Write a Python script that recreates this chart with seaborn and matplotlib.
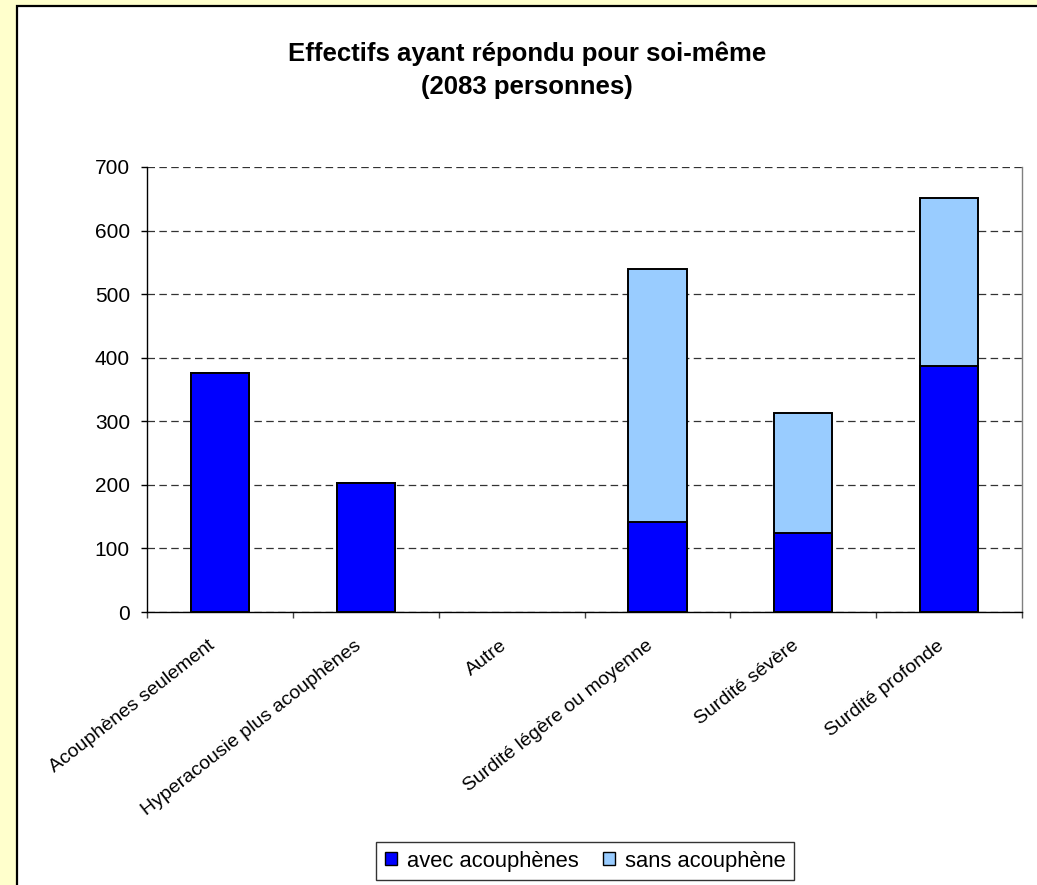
import matplotlib
matplotlib.use("Agg")
import matplotlib.pyplot as plt
import matplotlib.patches as mpatches
import matplotlib.transforms as mtransforms
from matplotlib.ticker import FixedLocator
import seaborn as sns
import pandas as pd

categories = ["Acouphènes seulement", "Hyperacousie plus acouphènes", "Autre",
              "Surdité légère ou moyenne", "Surdité sévère", "Surdité profonde"]
avec_acouphenes = [376, 203, 0, 141, 124, 387]
sans_acouphene = [0, 0, 0, 399, 189, 265]
yticks = [0, 100, 200, 300, 400, 500, 600, 700]
title_line1 = "Effectifs ayant répondu pour soi-même"
title_line2 = "(2083 personnes)"
legend_labels = ["avec acouphènes", "sans acouphène"]

dark = "#0000FF"
light = "#99CCFF"

sns.set_style("white")
plt.rcParams["font.family"] = ["Liberation Sans", "DejaVu Sans"]
plt.rcParams["text.color"] = "black"
plt.rcParams["xtick.color"] = "black"
plt.rcParams["ytick.color"] = "black"
plt.rcParams["axes.labelcolor"] = "black"

df = pd.DataFrame({"cat": categories, "avec": avec_acouphenes, "sans": sans_acouphene})
df["total"] = df["avec"] + df["sans"]

W, H = 1037, 885
fig = plt.figure(figsize=(W / 100, H / 100), dpi=100)
fig.patch.set_facecolor("#FFFFCC")

# white chart panel with black border
panel = mpatches.Rectangle((17 / W, -0.02), 1.05, 1 - 6 / H + 0.02,
                           transform=fig.transFigure, facecolor="white",
                           edgecolor="black", linewidth=1.6, zorder=-5)
fig.patches.append(panel)

ax = fig.add_axes([147 / W, 1 - 612 / H, (1022 - 147) / W, (612 - 167) / H])
ax.set_zorder(2)
ax.set_facecolor("white")
ax.patch.set_alpha(0)

sns.barplot(data=df, x="cat", y="total", order=categories, color=light,
            saturation=1, width=0.4, edgecolor="black", linewidth=1.4, ax=ax, zorder=3)
sns.barplot(data=df, x="cat", y="avec", order=categories, color=dark,
            saturation=1, width=0.4, edgecolor="black", linewidth=1.4, ax=ax, zorder=4)

# zero-height bars leave no visible mark
for p in ax.patches:
    if p.get_height() == 0:
        p.set_visible(False)

ax.set_xlim(-0.5, len(categories) - 0.5)
ax.set_ylim(0, 700)
ax.set_yticks(yticks)
ax.set_yticklabels([str(v) for v in yticks], fontsize=15)
ax.set_xlabel("")
ax.set_ylabel("")

ax.yaxis.grid(True, linestyle=(0, (6, 3.5)), color="#333333", linewidth=0.9, zorder=1)
ax.xaxis.grid(False)
ax.set_axisbelow(True)

for s in ["left", "bottom"]:
    ax.spines[s].set_color("black")
    ax.spines[s].set_linewidth(1.0)
ax.spines["right"].set_color("#808080")
ax.spines["right"].set_linewidth(1.0)
ax.spines["top"].set_visible(False)

ax.tick_params(axis="y", which="major", direction="out", length=4.3, width=1,
               color="black", pad=8, left=True)
ax.xaxis.set_minor_locator(FixedLocator([i - 0.5 for i in range(len(categories) + 1)]))
ax.tick_params(axis="x", which="minor", direction="out", length=4.3, width=1,
               color="#444444", bottom=True)
ax.tick_params(axis="x", which="major", length=0, pad=18, bottom=True)
ax.set_xticks(range(len(categories)))
ax.set_xticklabels(categories, fontsize=14, rotation=38, ha="right", va="top",
                   rotation_mode="anchor")
offset = mtransforms.ScaledTranslation(-12 / 100, 0, fig.dpi_scale_trans)
for lbl in ax.get_xticklabels():
    lbl.set_transform(lbl.get_transform() + offset)

fig.text(527 / W, 1 - 54 / H, title_line1,
         ha="center", va="center", fontsize=18.5, fontweight="bold")
fig.text(527 / W, 1 - 87 / H, title_line2,
         ha="center", va="center", fontsize=18.5, fontweight="bold")

handles = [mpatches.Patch(facecolor=dark, edgecolor="black", linewidth=1.0),
           mpatches.Patch(facecolor=light, edgecolor="black", linewidth=1.0)]
leg = fig.legend(handles, legend_labels, loc="center", bbox_to_anchor=(585 / W, 1 - 861 / H),
                 ncol=2, fontsize=15.8, frameon=True, fancybox=False, shadow=False,
                 handlelength=0.55, handleheight=0.5, handletextpad=0.45,
                 columnspacing=1.1, borderpad=0.4)
leg.get_frame().set_edgecolor("black")
leg.get_frame().set_linewidth(1.0)

fig.savefig("out.png", dpi=100, facecolor=fig.get_facecolor())
